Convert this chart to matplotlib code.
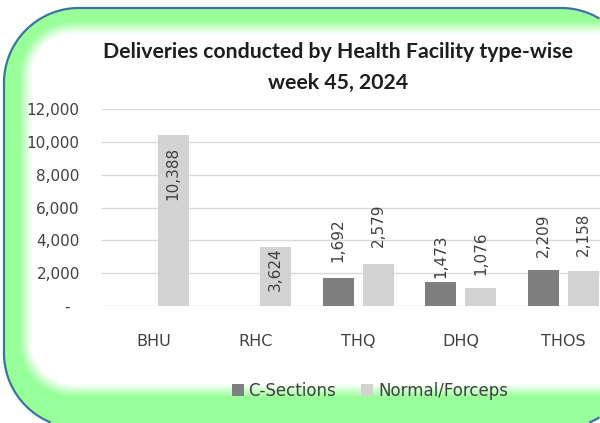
import numpy as np
import matplotlib
matplotlib.use("Agg")
import matplotlib.pyplot as plt
from matplotlib.ticker import FuncFormatter

# data
categories = ['BHU', 'RHC', 'THQ', 'DHQ', 'THOS']
c_sections = [0, 0, 1692, 1473, 2209]
normal_forceps = [10388, 3624, 2579, 1076, 2158]
y_ticks = [0, 2000, 4000, 6000, 8000, 10000, 12000]

# label gap above the bar top in pixels (negative = inside the bar)
c_gap = [0, 0, 16, 4, 13]
n_gap = [-11, -1, 17, 13, 15]

W, H = 600, 423
txt_col = '#404040'


def box_sdf(xx, yy, x0, y0, x1, y1, r):
    # signed distance to a rounded rectangle (negative inside)
    cx, cy = (x0 + x1) / 2, (y0 + y1) / 2
    bx, by = (x1 - x0) / 2, (y1 - y0) / 2
    qx = np.abs(xx - cx) - bx + r
    qy = np.abs(yy - cy) - by + r
    return np.hypot(np.maximum(qx, 0), np.maximum(qy, 0)) + np.minimum(np.maximum(qx, qy), 0) - r


def rounded_bg(fig):
    ax_bg = fig.add_axes([0, 0, 1, 1])
    xx, yy = np.meshgrid(np.arange(W) + 0.5, np.arange(H) + 0.5)
    outer = box_sdf(xx, yy, 4, 8, 636, 428, 75)
    inner = box_sdf(xx, yy, 32, 34, 720, 384, 42)

    # green near the border, fading to white inside
    t = np.clip(inner / 13, 0, 1)[..., None]
    green = np.array([0.60, 1.0, 0.60])
    img = np.ones(3) * (1 - t) + green * t
    img[outer > 0] = 1
    ax_bg.imshow(img, extent=(0, W, H, 0), interpolation='bilinear', zorder=0)
    ax_bg.contour(xx, yy, outer, levels=[0], colors='#4170A8', linewidths=1.6, zorder=2)
    ax_bg.set_xlim(0, W)
    ax_bg.set_ylim(H, 0)
    ax_bg.axis('off')


def make_chart():
    plt.rcParams['font.family'] = ['DejaVu Sans']
    fig = plt.figure(figsize=(W / 100, H / 100), dpi=100)
    rounded_bg(fig)

    ax = fig.add_axes([102 / W, 1 - 306 / H, 512.5 / W, (306 - 109) / H])
    ax.patch.set_alpha(0)

    x = np.arange(len(categories))
    bw = 0.30
    off = 0.195
    b1 = ax.bar(x - off, c_sections, bw, color='#7F7F7F', label='C-Sections', zorder=3)
    b2 = ax.bar(x + off, normal_forceps, bw, color='#D3D3D3', label='Normal/Forceps', zorder=3)

    for bars, vals, gaps in ((b1, c_sections, c_gap), (b2, normal_forceps, n_gap)):
        for bar, v, g in zip(bars, vals, gaps):
            if v == 0:
                continue
            ax.annotate(f'{v:,}', (bar.get_x() + bar.get_width() / 2, v),
                        xytext=(0, g), textcoords='offset pixels',
                        rotation=90, ha='center', va='bottom' if g >= 0 else 'top',
                        fontsize=11, color=txt_col, zorder=4)

    ax.set_xlim(-0.5, len(categories) - 0.5)
    ax.set_ylim(0, 12000)
    ax.set_yticks(y_ticks)
    ax.yaxis.set_major_formatter(FuncFormatter(lambda v, p: '-  ' if v == 0 else f'{int(v):,}'))
    ax.set_xticks(x)
    ax.set_xticklabels(categories)
    ax.tick_params(axis='y', length=0, pad=16, labelsize=11, labelcolor=txt_col)
    ax.tick_params(axis='x', length=0, pad=20, labelsize=11.5, labelcolor=txt_col)
    for s in ax.spines.values():
        s.set_visible(False)
    ax.yaxis.grid(True, color='#D9D9D9', linewidth=1, zorder=0)
    ax.set_axisbelow(True)

    title_font = dict(ha='center', va='baseline', fontsize=15.3, fontweight='bold',
                      color='#1E1E1E', family=['Lato', 'DejaVu Sans'])
    fig.text(338 / W, 1 - 58 / H, 'Deliveries conducted by Health Facility type-wise', **title_font)
    fig.text(338 / W, 1 - 89 / H, 'week 45, 2024', **title_font)

    fig.legend(handles=[b1, b2], loc='center', bbox_to_anchor=(370 / W, 1 - 391 / H),
               ncol=2, frameon=False, fontsize=12, handlelength=0.7, handleheight=0.7,
               handletextpad=0.3, columnspacing=1.5, labelcolor=txt_col)

    fig.savefig('out.png', dpi=100)


if __name__ == "__main__":
    make_chart()
